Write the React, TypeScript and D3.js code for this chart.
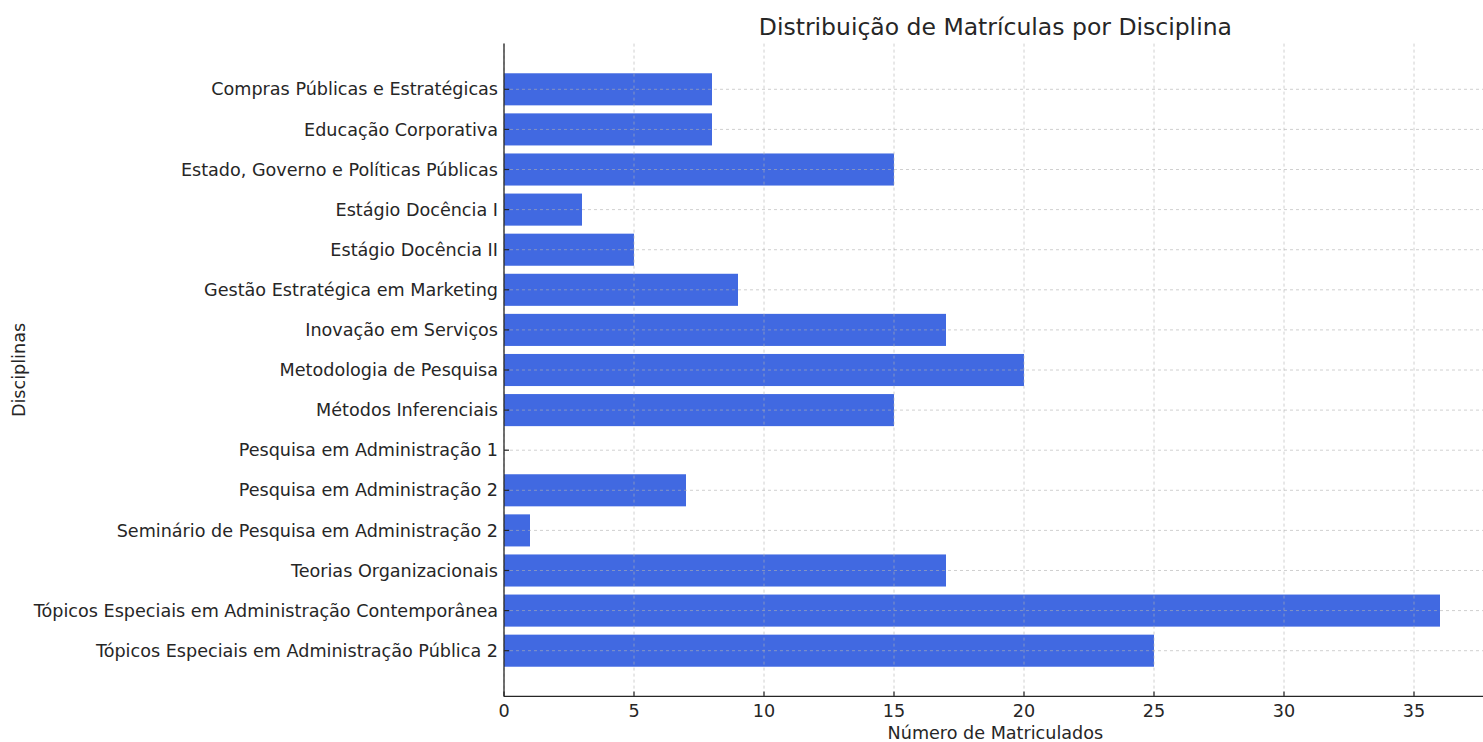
import React from "react";
import * as d3 from "d3";

const categories = [
  "Compras Públicas e Estratégicas",
  "Educação Corporativa",
  "Estado, Governo e Políticas Públicas",
  "Estágio Docência I",
  "Estágio Docência II",
  "Gestão Estratégica em Marketing",
  "Inovação em Serviços",
  "Metodologia de Pesquisa",
  "Métodos Inferenciais",
  "Pesquisa em Administração 1",
  "Pesquisa em Administração 2",
  "Seminário de Pesquisa em Administração 2",
  "Teorias Organizacionais",
  "Tópicos Especiais em Administração Contemporânea",
  "Tópicos Especiais em Administração Pública 2",
];
const values = [8, 8, 15, 3, 5, 9, 17, 20, 15, 0, 7, 1, 17, 36, 25];
const xTicks = [0, 5, 10, 15, 20, 25, 30, 35];

const W = 1483;
const H = 742;
const left = 504;
const top = 43.6;
const bottom = 696.4;
const font = "'DejaVu Sans', sans-serif";
const textColor = "#262626";
const fs = 17.6;

export default function App() {
  const x = d3.scaleLinear().domain([0, 37.8]).range([left, left + 37.8 * 26]);
  const n = categories.length;
  const y = d3
    .scaleLinear()
    .domain([-0.4 - 0.74, n - 1 + 0.4 + 0.74])
    .range([top, bottom]);
  const bh = y(0.4) - y(-0.4);
  const gridStroke = "rgba(176,176,176,0.6)";
  return (
    <div style={{ position: "absolute", left: 0, top: 0 }}>
      <svg width={W} height={H} style={{ display: "block", background: "#fff" }}>
        <text x={(left + x(37.8)) / 2} y={35} textAnchor="middle" fontFamily={font} fontSize={23.5} fill={textColor}>
          Distribuição de Matrículas por Disciplina
        </text>
        {categories.map((c, i) => (
          <rect key={c} x={x(0)} y={y(i) - bh / 2} width={x(values[i]) - x(0)} height={bh} fill="#4169E1" />
        ))}
        {xTicks.map((t) => (
          <line key={"gx" + t} x1={x(t)} x2={x(t)} y1={top} y2={bottom} stroke={gridStroke} strokeDasharray="3,3" />
        ))}
        {categories.map((c, i) => (
          <line key={"gy" + c} x1={left} x2={W} y1={y(i)} y2={y(i)} stroke={gridStroke} strokeDasharray="3,3" />
        ))}
        <line x1={left} x2={left} y1={top} y2={bottom} stroke={textColor} strokeWidth={1.3} />
        <line x1={left} x2={W} y1={bottom} y2={bottom} stroke={textColor} strokeWidth={1.3} />
        {xTicks.map((t) => (
          <g key={"tx" + t}>
            <line x1={x(t)} x2={x(t)} y1={bottom} y2={bottom - 5} stroke={textColor} strokeWidth={1.2} />
            <text x={x(t)} y={bottom + 21} textAnchor="middle" fontFamily={font} fontSize={fs} fill={textColor}>
              {t}
            </text>
          </g>
        ))}
        {categories.map((c, i) => (
          <g key={"ty" + c}>
            <line x1={left} x2={left + 5} y1={y(i)} y2={y(i)} stroke={textColor} strokeWidth={1.2} />
            <text x={left - 6} y={y(i)} dy="0.35em" textAnchor="end" fontFamily={font} fontSize={fs} fill={textColor}>
              {c}
            </text>
          </g>
        ))}
        <text x={(left + x(37.8)) / 2} y={739} textAnchor="middle" fontFamily={font} fontSize={fs} fill={textColor}>
          Número de Matriculados
        </text>
        <text
          transform={`translate(25,${(top + bottom) / 2}) rotate(-90)`}
          textAnchor="middle"
          fontFamily={font}
          fontSize={fs}
          fill={textColor}
        >
          Disciplinas
        </text>
      </svg>
    </div>
  );
}
